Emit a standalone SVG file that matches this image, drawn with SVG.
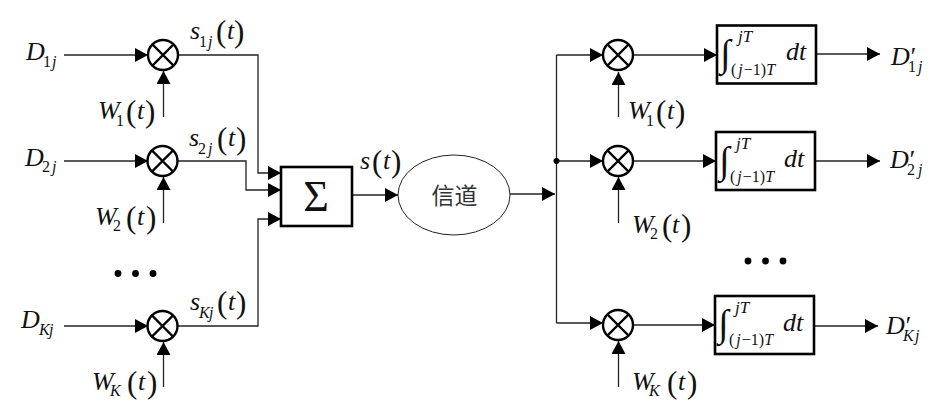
<svg xmlns="http://www.w3.org/2000/svg" width="943" height="417" viewBox="0 0 943 417">
<style>
text{font-family:"Liberation Serif","Times New Roman",serif;fill:#111}
.v{font-style:italic;font-size:26px}
.s{font-style:italic;font-size:16px}
.n{font-style:normal;font-size:16px}
.p{font-style:normal;font-size:31px}
.t{font-size:17px;font-style:italic}
.u{font-size:16px}
.w{fill:none;stroke:#222;stroke-width:1.3}
.b{fill:#fff;stroke:#000;stroke-width:2.6}
.m{fill:#fff;stroke:#000;stroke-width:2.4}
.x{stroke:#000;stroke-width:2.2}
</style>
<defs>
<marker id="arrow" markerUnits="userSpaceOnUse" markerWidth="14" markerHeight="14" refX="13" refY="7" orient="auto"><path d="M0 0L13 7L0 14Z" fill="#000"/></marker>
<g id="mixer"><circle r="15" class="m"/><path class="x" d="M-10.6-10.6L10.6 10.6M-10.6 10.6L10.6-10.6"/></g>
</defs>
<g id="connectors" class="w">
<path marker-end="url(#arrow)" d="M64 55H148"/>
<path marker-end="url(#arrow)" d="M163.500 117V71"/>
<path marker-end="url(#arrow)" d="M64 161H148"/>
<path marker-end="url(#arrow)" d="M163.500 223V177"/>
<path marker-end="url(#arrow)" d="M64 326H148"/>
<path marker-end="url(#arrow)" d="M163.500 387V342"/>
<path marker-end="url(#arrow)" d="M178 55H258V173H281"/>
<path marker-end="url(#arrow)" d="M178 161H246V190H281"/>
<path marker-end="url(#arrow)" d="M178 326H258V219H281"/>
<path marker-end="url(#arrow)" d="M352 195H398"/>
<path marker-end="url(#arrow)" d="M510 194H555"/>
<path d="M556.500 55V323"/>
<path marker-end="url(#arrow)" d="M556.500 55H603"/>
<path marker-end="url(#arrow)" d="M556.500 161H603"/>
<path marker-end="url(#arrow)" d="M556.500 323H603"/>
<path marker-end="url(#arrow)" d="M618.500 117V72"/>
<path marker-end="url(#arrow)" d="M618.500 223V177"/>
<path marker-end="url(#arrow)" d="M618.500 387V341"/>
<path marker-end="url(#arrow)" d="M633 55H717"/>
<path marker-end="url(#arrow)" d="M633 161H716"/>
<path marker-end="url(#arrow)" d="M633 325H715"/>
<path marker-end="url(#arrow)" d="M816 54H880"/>
<path marker-end="url(#arrow)" d="M815 161H880"/>
<path marker-end="url(#arrow)" d="M814 326H878"/>
<circle cx="556.500" cy="161" r="3" fill="#000" stroke="none"/>
</g>
<g id="mixer-tx-1"><use href="#mixer" x="163" y="55"/></g>
<g id="mixer-tx-2"><use href="#mixer" x="162.500" y="161"/></g>
<g id="mixer-tx-k"><use href="#mixer" x="162.500" y="326"/></g>
<g id="mixer-rx-1"><use href="#mixer" x="618" y="55"/></g>
<g id="mixer-rx-2"><use href="#mixer" x="618" y="161"/></g>
<g id="mixer-rx-k"><use href="#mixer" x="618" y="325"/></g>
<g id="sum"><rect class="b" x="281" y="167" width="71" height="59"/><text x="316" y="210.500" font-size="44" text-anchor="middle">Σ</text></g>
<g id="channel"><ellipse cx="454" cy="195" rx="56" ry="40" fill="#fff" stroke="#222" stroke-width="1"/><text x="454.500" y="204" font-size="23" text-anchor="middle" style="font-family:'Noto Sans CJK SC',sans-serif;fill:#333">信道</text></g>
<g id="integrator-1"><rect class="b" x="717" y="25.500" width="99" height="58"/><text x="720" y="66" font-size="38">∫</text><text class="t" x="738" y="42">jT</text><text class="u" x="731" y="75">(<tspan font-style="italic" dx="2">j</tspan><tspan dx="1">−1)</tspan><tspan font-style="italic">T</tspan></text><text class="v" x="786" y="60">dt</text></g>
<g id="integrator-2"><rect class="b" x="716" y="132" width="99" height="58"/><text x="719" y="172.500" font-size="38">∫</text><text class="t" x="736" y="148.500">jT</text><text class="u" x="730" y="181.500">(<tspan font-style="italic" dx="2">j</tspan><tspan dx="1">−1)</tspan><tspan font-style="italic">T</tspan></text><text class="v" x="784" y="167">dt</text></g>
<g id="integrator-k"><rect class="b" x="715" y="296" width="99" height="58"/><text x="718" y="336" font-size="38">∫</text><text class="t" x="735" y="312.500">jT</text><text class="u" x="729" y="345">(<tspan font-style="italic" dx="2">j</tspan><tspan dx="1">−1)</tspan><tspan font-style="italic">T</tspan></text><text class="v" x="783" y="331">dt</text></g>
<g id="ellipsis-left" fill="#000"><circle cx="118" cy="273.500" r="3.400"/><circle cx="135.500" cy="273.500" r="3.400"/><circle cx="153" cy="273.500" r="3.400"/></g>
<g id="ellipsis-right" fill="#000"><circle cx="748" cy="261" r="3.400"/><circle cx="765.500" cy="261" r="3.400"/><circle cx="783" cy="261" r="3.400"/></g>
<g id="labels-data">
<text class="v" x="26" y="60">D<tspan class="n" x="43" y="67">1</tspan><tspan class="s" x="52" y="67">j</tspan></text>
<text class="v" x="25" y="166">D<tspan class="n" x="42" y="172">2</tspan><tspan class="s" x="52" y="172">j</tspan></text>
<text class="v" x="21" y="328">D<tspan class="s" x="39" y="335">K</tspan><tspan class="s" x="49" y="335">j</tspan></text>
</g>
<g id="labels-spread">
<text class="v" x="98" y="119">W<tspan class="n" x="116" y="126">1</tspan><tspan class="p" x="126" y="122">(</tspan><tspan x="137" y="119">t</tspan><tspan class="p" x="145" y="122">)</tspan></text>
<text class="v" x="95" y="225">W<tspan class="n" x="113" y="231">2</tspan><tspan class="p" x="126" y="228">(</tspan><tspan x="137" y="225">t</tspan><tspan class="p" x="146" y="228">)</tspan></text>
<text class="v" x="92" y="390">W<tspan class="s" x="110" y="396">K</tspan><tspan class="p" x="127" y="393">(</tspan><tspan x="138" y="390">t</tspan><tspan class="p" x="147" y="393">)</tspan></text>
</g>
<g id="labels-branch">
<text class="v" x="190" y="39">s<tspan class="n" x="199" y="47">1</tspan><tspan class="s" x="208" y="47">j</tspan><tspan class="p" x="216" y="42">(</tspan><tspan x="227" y="39">t</tspan><tspan class="p" x="234" y="42">)</tspan></text>
<text class="v" x="189" y="146">s<tspan class="n" x="198" y="154">2</tspan><tspan class="s" x="208" y="154">j</tspan><tspan class="p" x="217" y="149">(</tspan><tspan x="228" y="146">t</tspan><tspan class="p" x="236" y="149">)</tspan></text>
<text class="v" x="190" y="310">s<tspan class="s" x="199" y="318">K</tspan><tspan class="s" x="209" y="318">j</tspan><tspan class="p" x="217" y="313">(</tspan><tspan x="228" y="310">t</tspan><tspan class="p" x="236" y="313">)</tspan></text>
<text class="v" x="360" y="169">s<tspan class="p" x="372" y="172">(</tspan><tspan x="383" y="169">t</tspan><tspan class="p" x="391" y="172">)</tspan></text>
</g>
<g id="labels-despread">
<text class="v" x="628" y="119">W<tspan class="n" x="646" y="126">1</tspan><tspan class="p" x="656" y="122">(</tspan><tspan x="667" y="119">t</tspan><tspan class="p" x="675" y="122">)</tspan></text>
<text class="v" x="632" y="233">W<tspan class="n" x="650" y="239">2</tspan><tspan class="p" x="662" y="236">(</tspan><tspan x="672" y="233">t</tspan><tspan class="p" x="681" y="236">)</tspan></text>
<text class="v" x="632" y="390">W<tspan class="s" x="649" y="396">K</tspan><tspan class="p" x="667" y="393">(</tspan><tspan x="678" y="390">t</tspan><tspan class="p" x="687" y="393">)</tspan></text>
</g>
<g id="labels-output">
<text class="v" x="891" y="65">D<tspan x="909" y="65">′</tspan><tspan class="n" x="908" y="72">1</tspan><tspan class="s" x="918" y="72">j</tspan></text>
<text class="v" x="890" y="168">D<tspan x="908" y="168">′</tspan><tspan class="n" x="907" y="175">2</tspan><tspan class="s" x="918" y="175">j</tspan></text>
<text class="v" x="886" y="334">D<tspan x="904" y="334">′</tspan><tspan class="s" x="903" y="341">K</tspan><tspan class="s" x="915" y="341">j</tspan></text>
</g>
</svg>
